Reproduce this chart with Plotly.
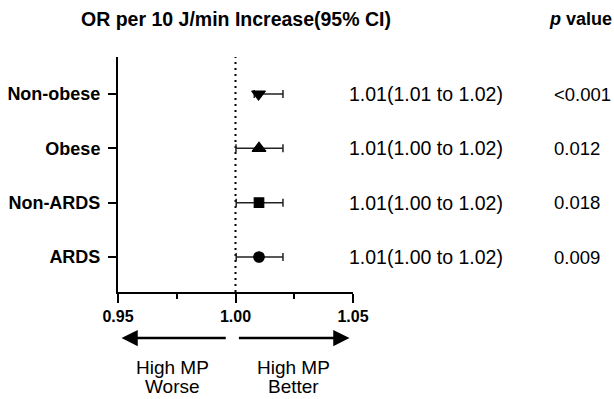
import plotly.graph_objects as go

groups = ["ARDS", "Non-ARDS", "Obese", "Non-obese"]
odds_ratio = [1.01, 1.01, 1.01, 1.0098]
ci_lower = [1.0003, 1.0003, 1.0002, 1.008]
ci_upper = [1.0202, 1.0202, 1.0202, 1.0202]
ci_text = ["1.01(1.00 to 1.02)", "1.01(1.00 to 1.02)", "1.01(1.00 to 1.02)", "1.01(1.01 to 1.02)"]
p_text = ["0.009", "0.018", "0.012", "<0.001"]
symbols = ["circle", "square", "triangle-up", "triangle-down"]
sizes = [10.5, 9.5, 12, 12]
x_ticks = [0.95, 1.00, 1.05]

ypos = list(range(len(groups)))
FONT = "Arial, Liberation Sans, sans-serif"

fig = go.Figure()
fig.add_trace(go.Scatter(
    x=odds_ratio, y=ypos, mode="markers",
    marker=dict(symbol=symbols, size=sizes, color="black", opacity=1, line=dict(width=1.2, color="black")),
    error_x=dict(type="data", symmetric=False,
                 array=[u - o for u, o in zip(ci_upper, odds_ratio)],
                 arrayminus=[o - l for o, l in zip(odds_ratio, ci_lower)],
                 color="#222222", thickness=1.5, width=4),
    showlegend=False, cliponaxis=False,
))

fig.add_shape(type="line", xref="x", yref="paper", x0=1.0, x1=1.0, y0=0, y1=1,
              line=dict(color="black", width=2, dash="2px,4px"), layer="below")

annotations = []
for yv, t, p in zip(ypos, ci_text, p_text):
    annotations.append(dict(x=1.311, xref="paper", y=yv, yref="y", text=t, showarrow=False,
                            xanchor="center", yanchor="middle", font=dict(size=19.5, color="black", family=FONT)))
    annotations.append(dict(x=1.847, xref="paper", y=yv, yref="y", text=p, showarrow=False,
                            xanchor="left", yanchor="middle", font=dict(size=18.5, color="black", family=FONT)))

annotations.append(dict(x=0.5, xref="paper", y=1.162, yref="paper", text="<b>OR per 10 J/min Increase(95% CI)</b>",
                        showarrow=False, xanchor="center", yanchor="middle", font=dict(size=19.5, color="black", family=FONT)))
annotations.append(dict(x=1.966, xref="paper", y=1.162, yref="paper", text="<b><i>p</i> value</b>",
                        showarrow=False, xanchor="center", yanchor="middle", font=dict(size=18, color="black", family=FONT)))

# direction arrows
annotations.append(dict(x=0.9515, y=-0.196, xref="x", yref="paper", ax=0.9965, ay=0, axref="x", ayref="pixel",
                        text="", showarrow=True, arrowhead=2, arrowsize=1.3, arrowwidth=2.5, arrowcolor="black"))
annotations.append(dict(x=1.0485, y=-0.196, xref="x", yref="paper", ax=1.0008, ay=0, axref="x", ayref="pixel",
                        text="", showarrow=True, arrowhead=2, arrowsize=1.3, arrowwidth=2.5, arrowcolor="black"))
for xp, lines in [(0.234, ["High MP", "Worse"]), (0.745, ["High MP", "Better"])]:
    for yp, line in zip([-0.323, -0.403], lines):
        annotations.append(dict(x=xp, xref="paper", y=yp, yref="paper", text=line, showarrow=False,
                                xanchor="center", yanchor="middle", font=dict(size=19, color="black", family=FONT)))

fig.update_layout(
    width=614, height=399,
    margin=dict(l=118, r=261, t=57, b=107, autoexpand=False),
    paper_bgcolor="white", plot_bgcolor="white",
    font=dict(family=FONT, color="black"),
    annotations=annotations,
    xaxis=dict(range=[0.95, 1.05], tickvals=x_ticks, ticktext=["<b>%.2f</b>" % v for v in x_ticks],
               showline=True, linewidth=2, linecolor="black", ticks="outside", ticklen=9, tickwidth=2,
               tickcolor="black", showgrid=False, zeroline=False, tickfont=dict(size=16, color="black"),
               automargin=False,
               minor=dict(tickvals=[0.975, 1.025], ticks="outside", ticklen=5, tickwidth=2, tickcolor="black", showgrid=False)),
    yaxis=dict(range=[-0.644, 3.681], tickvals=ypos, ticktext=["<b>%s</b>" % g for g in groups],
               showline=True, linewidth=2, linecolor="black", ticks="outside", ticklen=8, tickwidth=2,
               tickcolor="black", showgrid=False, zeroline=False, tickfont=dict(size=18, color="black"),
               ticklabelstandoff=4, automargin=False),
)

fig.write_html("out.html", config={"displayModeBar": False},
               post_script="document.body.style.margin='0';document.body.style.overflow='hidden';")
